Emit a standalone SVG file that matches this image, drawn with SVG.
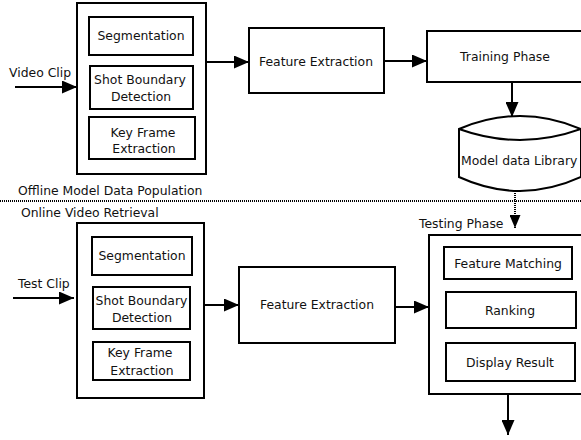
<svg xmlns="http://www.w3.org/2000/svg" width="581" height="440" viewBox="0 0 581 440">
<defs>
<style>
.box{fill:#fff;stroke:#000;stroke-width:2}
.t{font-family:"DejaVu Sans",Verdana,sans-serif;font-size:12.4px;fill:#111}
.c{text-anchor:middle}
.ln{stroke:#000;stroke-width:2;fill:none}
.dot{stroke:#000;stroke-width:2;fill:none;stroke-dasharray:1 1}
</style>
<marker id="ah" markerUnits="userSpaceOnUse" markerWidth="15" markerHeight="13" refX="15" refY="6.5" orient="auto">
<path d="M0,0 L15,6.5 L0,13 Z" fill="#000"/>
</marker>
<marker id="ahs" markerUnits="userSpaceOnUse" markerWidth="13" markerHeight="11" refX="13" refY="5.5" orient="auto">
<path d="M0,0 L13,5.5 L0,11 Z" fill="#000"/>
</marker>
</defs>
<rect width="581" height="440" fill="#fff"/>

<g id="connectors">
<line class="ln" x1="15" y1="87" x2="77" y2="87" marker-end="url(#ah)"/>
<line class="ln" x1="206" y1="62" x2="249" y2="62" marker-end="url(#ah)"/>
<line class="ln" x1="384" y1="61" x2="427" y2="61" marker-end="url(#ah)"/>
<line class="ln" x1="512" y1="82" x2="512" y2="117" marker-end="url(#ah)"/>
<line class="dot" x1="515" y1="193" x2="515" y2="228" marker-end="url(#ahs)"/>
<line class="ln" x1="13" y1="298" x2="74" y2="298" marker-end="url(#ah)"/>
<line class="ln" x1="204" y1="305" x2="239" y2="305" marker-end="url(#ah)"/>
<line class="ln" x1="391" y1="307" x2="429" y2="307" marker-end="url(#ah)"/>
<line class="ln" x1="508" y1="394" x2="508" y2="435" marker-end="url(#ah)"/>
</g>

<g id="labels">
<text class="t" x="9" y="77">Video Clip</text>
<text class="t" x="18" y="195">Offline Model Data Population</text>
<line class="dot" x1="0" y1="201" x2="581" y2="201"/>
<text class="t" x="21" y="217">Online Video Retrieval</text>
<text class="t" x="18" y="288">Test Clip</text>
<text class="t" x="419" y="228">Testing Phase</text>
</g>

<g id="preprocess-offline">
<rect class="box" x="77" y="3" width="129" height="171"/>
<g id="seg1"><rect class="box" x="89" y="17" width="104" height="38"/><text class="t c" x="141" y="40">Segmentation</text></g>
<g id="shot1"><rect class="box" x="90" y="66" width="103" height="43"/><text class="t c" x="140" y="84">Shot Boundary</text><text class="t c" x="141" y="101">Detection</text></g>
<g id="key1"><rect class="box" x="89" y="117" width="106" height="42"/><text class="t c" x="143" y="137">Key Frame</text><text class="t c" x="144" y="153">Extraction</text></g>
</g>

<g id="fe1"><rect class="box" x="249" y="28" width="135" height="65"/><text class="t c" x="316" y="66">Feature Extraction</text></g>
<g id="training"><rect class="box" x="427" y="31" width="156" height="51"/><text class="t c" x="505" y="61">Training Phase</text></g>

<g id="library">
<path class="box" d="M459,129 Q520,103 581,129 L581,177 Q520,205 459,177 Z"/>
<path class="ln" d="M459,129 Q520,151 581,129"/>
<text class="t" x="461" y="165">Model data Library</text>
</g>

<g id="preprocess-online">
<rect class="box" x="77" y="223" width="127" height="175"/>
<g id="seg2"><rect class="box" x="92" y="237" width="100" height="38"/><text class="t c" x="142" y="260">Segmentation</text></g>
<g id="shot2"><rect class="box" x="93" y="287" width="97" height="42"/><text class="t c" x="141.5" y="305">Shot Boundary</text><text class="t c" x="142" y="322">Detection</text></g>
<g id="key2"><rect class="box" x="93" y="342" width="97" height="38"/><text class="t c" x="140" y="357">Key Frame</text><text class="t c" x="142" y="375">Extraction</text></g>
</g>

<g id="fe2"><rect class="box" x="239" y="267" width="156" height="76"/><text class="t c" x="317" y="309">Feature Extraction</text></g>

<g id="testing">
<rect class="box" x="429" y="235" width="154" height="159"/>
<g id="match"><rect class="box" x="444" y="247" width="128" height="32"/><text class="t c" x="508" y="268">Feature Matching</text></g>
<g id="rank"><rect class="box" x="446" y="292" width="130" height="36"/><text class="t c" x="510" y="315">Ranking</text></g>
<g id="display"><rect class="box" x="446" y="343" width="129" height="38"/><text class="t c" x="510" y="367">Display Result</text></g>
</g>
</svg>
